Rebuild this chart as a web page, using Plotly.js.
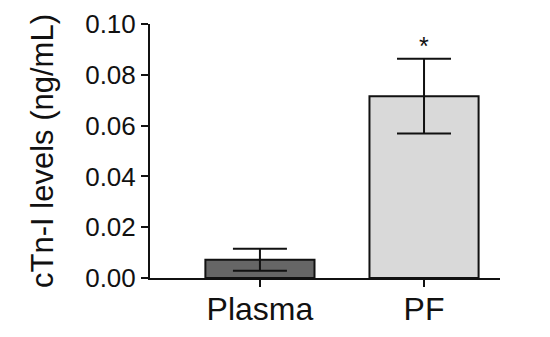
<!DOCTYPE html>
<html>
<head>
<meta charset="utf-8">
<script src="https://cdn.plot.ly/plotly-3.0.1.min.js"></script>
<style>html,body{margin:0;padding:0;background:#fff;}#chart{width:550px;height:337px;}</style>
</head>
<body>
<div id="chart"></div>
<script>
const categories = ["Plasma", "PF"];
const means = [0.0072, 0.0716];
const sems = [0.0043, 0.0147];
const barColors = ["#666666", "#d9d9d9"];
const yTickVals = [0, 0.02, 0.04, 0.06, 0.08, 0.10];
const yTickText = ["0.00", "0.02", "0.04", "0.06", "0.08", "0.10"];
const sigMarks = ["", "*"];

const FONT = "Liberation Sans, Arial, Helvetica, sans-serif";

const trace = {
  type: "bar",
  x: categories,
  y: means,
  marker: { color: barColors, line: { color: "#111", width: 2 } },
  error_y: { type: "data", array: sems, visible: true, color: "#111", thickness: 2, width: 27 },
  hoverinfo: "none"
};

const annotations = categories.map((c, i) => ({
  x: c, y: means[i] + sems[i], xref: "x", yref: "y",
  text: sigMarks[i], showarrow: false, yanchor: "bottom", yshift: -3,
  font: { family: FONT, size: 25, color: "#111" }
})).filter(a => a.text);

const layout = {
  width: 550, height: 337,
  margin: { l: 150, r: 50, t: 24, b: 59 },
  paper_bgcolor: "#fff", plot_bgcolor: "#fff",
  showlegend: false,
  bargap: 0.335,
  font: { family: FONT, color: "#111" },
  xaxis: {
    range: [-0.67, 1.463],
    showline: true, linecolor: "#111", linewidth: 2,
    ticks: "outside", ticklen: 7, tickwidth: 2, tickcolor: "#111",
    ticklabelstandoff: -5,
    tickfont: { family: FONT, size: 32, color: "#111" },
    showgrid: false, zeroline: false, fixedrange: true
  },
  yaxis: {
    range: [0, 0.1],
    tickvals: yTickVals, ticktext: yTickText,
    showline: true, linecolor: "#111", linewidth: 2,
    ticks: "outside", ticklen: 7, tickwidth: 2, tickcolor: "#111",
    tickfont: { family: FONT, size: 26, color: "#111" },
    showgrid: false, zeroline: false, fixedrange: true,
    title: { text: "cTn-I levels (ng/mL)", font: { family: FONT, size: 31, color: "#111" }, standoff: 22 }
  },
  annotations: annotations
};

Plotly.newPlot("chart", [trace], layout, { displayModeBar: false, staticPlot: true });
</script>
</body>
</html>
